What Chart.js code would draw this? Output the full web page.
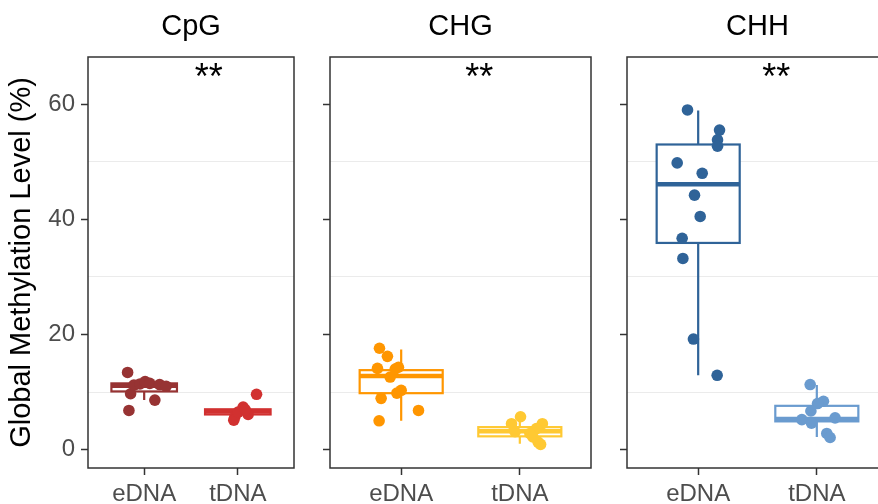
<!DOCTYPE html>
<html lang="en">
<head>
<meta charset="UTF-8">
<title>Global Methylation Level</title>
<script src="https://cdn.jsdelivr.net/npm/chart.js@4.4.1/dist/chart.umd.min.js"></script>
<style>
  html, body { margin: 0; padding: 0; background: #fff; overflow: hidden; width: 878px; height: 504px; }
  canvas { position: absolute; left: 0; top: 0; }
</style>
</head>
<body>
<canvas id="cpg" width="900" height="504"></canvas>
<canvas id="chg" width="900" height="504"></canvas>
<canvas id="chh" width="900" height="504"></canvas>
<script>
// categories and panels
const categories = ['eDNA', 'tDNA'];
const contexts = ['CpG', 'CHG', 'CHH'];
const signifLabels = ['**', '**', '**'];

// jittered points, x is offset from the category (units of one category)
const cpgEdnaX = [-0.177, -0.163, -0.145, -0.110, -0.045, 0.010, 0.060, 0.114, 0.165, 0.235];
const cpgEdnaY = [13.4, 6.8, 9.7, 11.2, 11.4, 11.8, 11.5, 8.6, 11.3, 11.0];
const cpgTdnaX = [0.200, 0.057, 0.110, -0.032, -0.043, 0.003, 0.080];
const cpgTdnaY = [9.6, 7.4, 6.1, 5.7, 5.1, 6.5, 6.9];

const chgEdnaX = [-0.183, -0.116, -0.200, -0.023, -0.093, -0.036, 0.000, -0.169, 0.146, -0.186, -0.050];
const chgEdnaY = [17.6, 16.2, 14.1, 14.3, 12.6, 9.8, 10.3, 8.9, 6.8, 5.0, 14.0];
const chgTdnaX = [0.006, -0.070, 0.190, 0.140, 0.085, -0.040, 0.154, 0.175, 0.110];
const chgTdnaY = [5.7, 4.5, 4.5, 3.65, 2.8, 3.1, 1.3, 0.9, 2.2];

const chhEdnaX = [-0.090, 0.180, 0.163, 0.163, -0.177, 0.034, -0.031, 0.017, -0.135, -0.129, -0.040, 0.160];
const chhEdnaY = [59.0, 55.5, 53.8, 52.7, 49.8, 48.0, 44.2, 40.5, 36.7, 33.2, 19.2, 12.9];
const chhTdnaX = [-0.056, 0.056, 0.006, -0.050, -0.126, -0.045, 0.154, 0.084, 0.112];
const chhTdnaY = [11.3, 8.4, 8.0, 6.7, 5.2, 4.6, 5.5, 2.8, 2.1];

// box stats: [lower whisker, q1, median, q3, upper whisker] for eDNA, tDNA
const cpgBox = [[8.6, 10.1, 11.1, 11.5, 11.8], [5.1, 6.1, 6.6, 7.0, 7.4]];
const chgBox = [[5.0, 9.8, 12.8, 13.8, 17.4], [1.0, 2.3, 3.2, 3.9, 5.1]];
const chhBox = [[12.9, 35.9, 46.1, 53.0, 58.9], [2.2, 4.9, 5.3, 7.6, 11.2]];

const cpgColors = ['#973333', '#D13130'];
const chgColors = ['#FF9600', '#FFC933'];
const chhColors = ['#2F6398', '#6A9BCF'];

const FONT = "'Liberation Sans', Arial, Helvetica, sans-serif";

const boxPlugin = {
  id: 'boxes',
  beforeDatasetsDraw(chart, args, opts) {
    const {ctx, scales: {x, y}} = chart;
    opts.stats.forEach((s, i) => {
      const [lo, q1, med, q3, hi] = s;
      const cx = x.getPixelForValue(i);
      const x0 = x.getPixelForValue(i - 0.35);
      const x1 = x.getPixelForValue(i + 0.35);
      ctx.save();
      ctx.strokeStyle = opts.colors[i];
      ctx.lineWidth = 2.2;
      ctx.beginPath();
      ctx.moveTo(cx, y.getPixelForValue(hi));
      ctx.lineTo(cx, y.getPixelForValue(q3));
      ctx.moveTo(cx, y.getPixelForValue(q1));
      ctx.lineTo(cx, y.getPixelForValue(lo));
      ctx.stroke();
      const top = y.getPixelForValue(q3);
      const bot = y.getPixelForValue(q1);
      ctx.fillStyle = '#fff';
      ctx.fillRect(x0, top, x1 - x0, bot - top);
      ctx.strokeRect(x0, top, x1 - x0, bot - top);
      ctx.lineWidth = 4.5;
      ctx.beginPath();
      ctx.moveTo(x0, y.getPixelForValue(med));
      ctx.lineTo(x1, y.getPixelForValue(med));
      ctx.stroke();
      ctx.restore();
    });
  },
  afterDatasetsDraw(chart, args, opts) {
    const {ctx, scales: {x, y}} = chart;
    ctx.save();
    ctx.fillStyle = '#000';
    ctx.font = '36px ' + FONT;
    ctx.textAlign = 'left';
    ctx.textBaseline = 'alphabetic';
    ctx.fillText(opts.label, x.getPixelForValue(0.54), y.getPixelForValue(62.6));
    ctx.restore();
  },
  afterDraw(chart) {
    const {ctx, chartArea: a} = chart;
    ctx.save();
    ctx.strokeStyle = '#333333';
    ctx.lineWidth = 1.5;
    ctx.strokeRect(a.left, a.top, a.right - a.left, a.bottom - a.top);
    ctx.restore();
  }
};

function makePanel(id, p) {
  const yW = p.first ? 88 : 20;
  return new Chart(document.getElementById(id), {
    type: 'scatter',
    plugins: [boxPlugin],
    data: {
      datasets: [
        { data: p.ex.map((v, i) => ({x: v, y: p.ey[i]})), backgroundColor: p.colors[0], pointRadius: 5.8, borderWidth: 0 },
        { data: p.tx.map((v, i) => ({x: 1 + v, y: p.ty[i]})), backgroundColor: p.colors[1], pointRadius: 5.8, borderWidth: 0 }
      ]
    },
    options: {
      responsive: false,
      animation: false,
      events: [],
      layout: { padding: { left: p.left - yW, right: 900 - p.right, top: 9.6, bottom: 0 } },
      plugins: {
        legend: { display: false },
        tooltip: { enabled: false },
        title: {
          display: true, text: p.title, fullSize: false, color: '#000',
          font: { family: FONT, size: 29, weight: 'normal' },
          padding: { top: 0, bottom: 12.6 }
        },
        boxes: { stats: p.box, colors: p.colors, label: p.signif }
      },
      scales: {
        x: {
          type: 'linear', min: -0.6, max: 1.6,
          afterBuildTicks: s => { s.ticks = categories.map((c, i) => ({value: i})); },
          afterFit: s => { s.height = 36; },
          ticks: { callback: v => categories[v], color: '#4D4D4D', font: { family: FONT, size: 24 }, padding: 4.5, autoSkip: false, maxRotation: 0 },
          grid: { color: 'transparent', tickColor: '#333333', tickLength: 7, tickWidth: 1.5 },
          border: { display: false }
        },
        y: {
          min: -3.2, max: 68.2,
          afterFit: s => { s.width = yW; },
          ticks: {
            stepSize: 10, includeBounds: false, color: '#4D4D4D', padding: 6,
            font: { family: FONT, size: 24 },
            callback: v => (p.first && v % 20 === 0) ? String(v) : ''
          },
          grid: {
            color: c => (c.tick && c.tick.value % 20 !== 0) ? '#EBEBEB' : 'transparent',
            tickColor: c => (c.tick && c.tick.value % 20 === 0) ? '#333333' : 'transparent',
            lineWidth: 1, tickLength: 7, tickWidth: 1.5
          },
          border: { display: false },
          title: {
            display: p.first, text: 'Global Methylation Level (%)', color: '#000',
            font: { family: FONT, size: 29 }, padding: { top: 4.6, bottom: 0 }
          }
        }
      }
    }
  });
}

makePanel('cpg', { first: true, left: 88, right: 294, title: contexts[0], signif: signifLabels[0],
  ex: cpgEdnaX, ey: cpgEdnaY, tx: cpgTdnaX, ty: cpgTdnaY, box: cpgBox, colors: cpgColors });
makePanel('chg', { first: false, left: 330, right: 591, title: contexts[1], signif: signifLabels[1],
  ex: chgEdnaX, ey: chgEdnaY, tx: chgTdnaX, ty: chgTdnaY, box: chgBox, colors: chgColors });
makePanel('chh', { first: false, left: 627, right: 888, title: contexts[2], signif: signifLabels[2],
  ex: chhEdnaX, ey: chhEdnaY, tx: chhTdnaX, ty: chhTdnaY, box: chhBox, colors: chhColors });
</script>
</body>
</html>
